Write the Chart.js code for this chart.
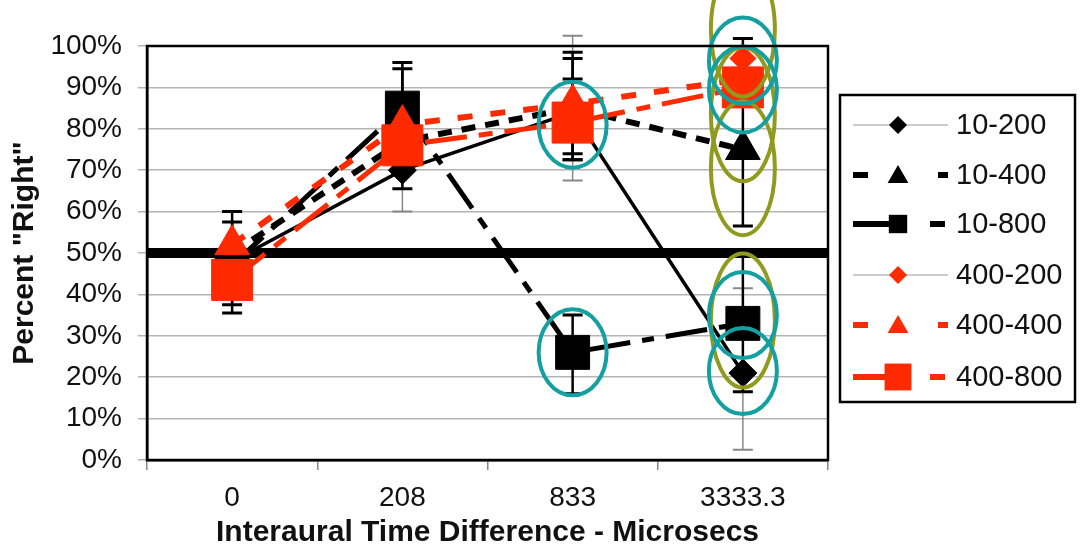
<!DOCTYPE html>
<html>
<head>
<meta charset="utf-8">
<script src="https://cdn.jsdelivr.net/npm/chart.js@4.4.0/dist/chart.umd.min.js"></script>
<style>
html, body { margin: 0; padding: 0; background: #fff; }
</style>
</head>
<body>
<canvas id="myChart" width="1080" height="553"></canvas>
<script>
// categories (interaural time difference, microsecs)
var labels = ['0', '208', '833', '3333.3'];

// percent "Right" per series
var s10_200 = [48, 70, 84, 21];
var s10_400 = [50, 77, 85, 75];
var s10_800 = [47, 85, 26, 33];
var s400_200 = [45, 75, 83, 97];
var s400_400 = [52, 81, 86, 92];
var s400_800 = [43.5, 76, 81.5, 90];

// error bars [low, high] per category
var err10_200 = [null, [60, 80], [67.5, 102.5], [2.5, 41.5]];
var err10_400 = [[37.5, 57.5], [65.5, 94.5], [72.5, 97], [56.5, 101.8]];
var err10_800 = [[35.5, 60], [75, 96], [16, 35], [16.5, 50]];
var err400_400 = [null, null, [74, 98.5], null];
var err400_800 = [null, null, [72.5, 92], null];

// circled points [category index, value]
var tealRings = [[2, 81], [2, 26], [3, 96.5], [3, 89.5], [3, 35], [3, 21.5]];
var oliveRings = [[3, 104], [3, 83.5], [3, 70.5], [3, 33.7]];

var chanceLevel = 50;

var yTicks = [0, 10, 20, 30, 40, 50, 60, 70, 80, 90, 100];

var RED = '#ff2a00';
var FONT = '"Liberation Sans", Arial, sans-serif';

var datasets = [
    { label: '10-200', data: s10_200, borderColor: '#000', backgroundColor: '#000', borderWidth: 3.5,
      pointStyle: 'rectRot', pointRadius: 14, order: 3, err: err10_200, errColor: '#888', errWidth: 1.5,
      legend: { dash: [], width: 1.2, color: '#999', r: 9 } },
    { label: '10-400', data: s10_400, borderColor: '#000', backgroundColor: '#000', borderWidth: 6, borderDash: [14, 10],
      pointStyle: 'triangle', pointRadius: 20, order: 4, err: err10_400, errColor: '#000', errWidth: 2.5,
      legend: { dash: [15, 70], width: 6, color: '#000', r: 12 } },
    { label: '10-800', data: s10_800, borderColor: '#000', backgroundColor: '#000', borderWidth: 5, borderDash: [42, 12, 12, 12],
      pointStyle: 'rect', pointRadius: 24, order: 5, err: err10_800, errColor: '#000', errWidth: 2.5,
      legend: { dash: [37, 40, 15, 100], width: 6, color: '#000', r: 13 } },
    { label: '400-200', data: s400_200, borderColor: '#999', backgroundColor: RED, borderWidth: 1, showLine: false,
      pointStyle: 'rectRot', pointRadius: 13, order: 2, err: null,
      legend: { dash: [], width: 1.2, color: '#999', r: 9 } },
    { label: '400-400', data: s400_400, borderColor: RED, backgroundColor: RED, borderWidth: 6, borderDash: [15, 18],
      pointStyle: 'triangle', pointRadius: 20, order: 1, err: err400_400, errColor: '#000', errWidth: 2.5,
      legend: { dash: [15, 70], width: 6, color: RED, r: 12 } },
    { label: '400-800', data: s400_800, borderColor: RED, backgroundColor: RED, borderWidth: 5, borderDash: [42, 12, 14, 12],
      pointStyle: 'rect', pointRadius: 29, order: 0, err: err400_800, errColor: '#000', errWidth: 2.5,
      legend: { dash: [37, 40, 15, 100], width: 6, color: RED, r: 19 } }
];
datasets.forEach(function (d) {
    d.pointBorderColor = d.backgroundColor;
    d.pointBackgroundColor = d.backgroundColor;
    d.pointBorderWidth = 1;
    d.tension = 0;
    d.fill = false;
});

function marker(ctx, style, x, y, r, color) {
    ctx.save();
    ctx.fillStyle = color;
    ctx.beginPath();
    if (style === 'rect') {
        var s = r * Math.SQRT1_2;
        ctx.rect(x - s, y - s, 2 * s, 2 * s);
    } else if (style === 'rectRot') {
        ctx.moveTo(x, y - r); ctx.lineTo(x + r, y); ctx.lineTo(x, y + r); ctx.lineTo(x - r, y);
    } else {
        ctx.moveTo(x, y - r);
        ctx.lineTo(x + r * Math.sin(Math.PI * 2 / 3), y + r / 2);
        ctx.lineTo(x - r * Math.sin(Math.PI * 2 / 3), y + r / 2);
    }
    ctx.closePath();
    ctx.fill();
    ctx.restore();
}

var extras = {
    id: 'extras',
    beforeDatasetsDraw: function (chart) {
        var ctx = chart.ctx, xs = chart.scales.x, ys = chart.scales.y, a = chart.chartArea;
        // thick chance line
        ctx.save();
        ctx.strokeStyle = '#000';
        ctx.lineWidth = 10;
        var yc = ys.getPixelForValue(chanceLevel);
        ctx.beginPath(); ctx.moveTo(a.left, yc); ctx.lineTo(a.right, yc); ctx.stroke();
        // error bars
        datasets.forEach(function (d) {
            if (!d.err) return;
            ctx.strokeStyle = d.errColor;
            d.err.forEach(function (e, i) {
                if (!e) return;
                var x = xs.getPixelForValue(i);
                var y0 = ys.getPixelForValue(e[0]), y1 = ys.getPixelForValue(e[1]);
                ctx.lineWidth = d.errWidth;
                ctx.beginPath(); ctx.moveTo(x, y0); ctx.lineTo(x, y1); ctx.stroke();
                ctx.lineWidth = d.errWidth + 0.5;
                ctx.beginPath();
                ctx.moveTo(x - 10, y0); ctx.lineTo(x + 10, y0);
                ctx.moveTo(x - 10, y1); ctx.lineTo(x + 10, y1);
                ctx.stroke();
            });
        });
        ctx.restore();
    },
    afterDatasetsDraw: function (chart) {
        var ctx = chart.ctx, xs = chart.scales.x, ys = chart.scales.y;
        ctx.save();
        ctx.lineWidth = 4;
        ctx.strokeStyle = '#8f9a1e';
        oliveRings.forEach(function (p) {
            ctx.beginPath();
            ctx.ellipse(xs.getPixelForValue(p[0]), ys.getPixelForValue(p[1]), 32, 67, 0, 0, Math.PI * 2);
            ctx.stroke();
        });
        ctx.strokeStyle = '#14a0a0';
        tealRings.forEach(function (p) {
            ctx.beginPath();
            ctx.ellipse(xs.getPixelForValue(p[0]), ys.getPixelForValue(p[1]), 34, 43, 0, 0, Math.PI * 2);
            ctx.stroke();
        });
        ctx.restore();
    },
    afterDraw: function (chart) {
        var ctx = chart.ctx, a = chart.chartArea;
        ctx.save();
        ctx.strokeStyle = '#000';
        ctx.lineWidth = 2.5;
        ctx.strokeRect(a.left, a.top, a.right - a.left, a.bottom - a.top);
        // legend
        ctx.strokeRect(840, 95, 235, 307);
        var rowY = [125, 175, 224, 275, 325, 377];
        ctx.font = '29px ' + FONT;
        ctx.textBaseline = 'middle';
        datasets.forEach(function (d, i) {
            var y = rowY[i], L = d.legend;
            ctx.save();
            ctx.strokeStyle = L.color;
            ctx.lineWidth = L.width;
            ctx.setLineDash(L.dash);
            ctx.beginPath(); ctx.moveTo(853, y); ctx.lineTo(948, y); ctx.stroke();
            ctx.restore();
            marker(ctx, d.pointStyle, 898, y + (d.pointStyle === 'triangle' ? 2 : 0), L.r, d.backgroundColor);
            ctx.fillStyle = '#111';
            ctx.fillText(d.label, 956, y + 1);
        });
        ctx.restore();
    }
};

new Chart(document.getElementById('myChart').getContext('2d'), {
    type: 'line',
    data: { labels: labels, datasets: datasets },
    plugins: [extras],
    options: {
        responsive: false,
        animation: false,
        events: [],
        layout: { padding: { top: 46, right: 252, bottom: 0, left: 0 } },
        plugins: { legend: { display: false }, tooltip: { enabled: false } },
        scales: {
            x: {
                offset: true,
                afterFit: function (s) { s.height = 93; },
                grid: { offset: true, drawOnChartArea: false, tickLength: 10, color: '#888', lineWidth: 1.5 },
                border: { color: '#000', width: 2.5 },
                ticks: { color: '#111', font: { family: FONT, size: 28 }, padding: 11 },
                title: { display: true, text: 'Interaural Time Difference - Microsecs', color: '#111',
                         font: { family: FONT, size: 30, weight: 'bold' }, padding: { top: 0, bottom: 2 } }
            },
            y: {
                min: 0, max: 100,
                afterFit: function (s) { s.width = 147; },
                afterBuildTicks: function (s) { s.ticks = yTicks.map(function (v) { return { value: v }; }); },
                grid: { color: '#b4b4b4', lineWidth: 1.5, tickLength: 9 },
                border: { color: '#000', width: 2.5 },
                ticks: { color: '#111', font: { family: FONT, size: 28 }, padding: 16,
                         callback: function (v) { return v + '%'; } },
                title: { display: true, text: 'Percent "Right"', color: '#111',
                         font: { family: FONT, size: 30, weight: 'bold' }, padding: { top: 7, bottom: 0 } }
            }
        }
    }
});
</script>
</body>
</html>
